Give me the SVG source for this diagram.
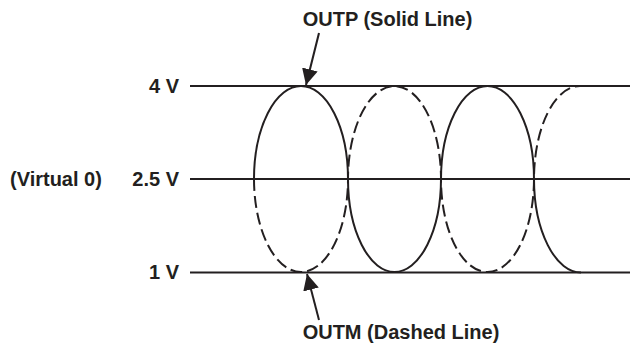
<svg xmlns="http://www.w3.org/2000/svg" width="635" height="344" viewBox="0 0 635 344">
<style>
.t{font-family:"Liberation Sans",Arial,sans-serif;font-weight:bold;font-size:20px;fill:#231f20}
.ln{stroke:#231f20;stroke-width:2;fill:none}
.dash{stroke-dasharray:12 5}
</style>
<defs>
<marker id="ah" markerUnits="userSpaceOnUse" markerWidth="17" markerHeight="16" refX="16" refY="8" orient="auto">
<path d="M0,0 L16,8 L0,16 z" fill="#231f20"/>
</marker>
</defs>
<rect width="635" height="344" fill="#fff"/>
<g id="axes">
<line class="ln" x1="190" y1="86" x2="630" y2="86"/>
<line class="ln" x1="190" y1="179" x2="630" y2="179"/>
<line class="ln" x1="190" y1="272.5" x2="630" y2="272.5"/>
</g>
<g id="outp">
<path class="ln" d="M254,179 A47,93 0 0 1 348,179 A46.5,93 0 0 0 441,179 A46.5,93 0 0 1 534,179 A47,93.5 0 0 0 581,272.5"/>
</g>
<g id="outm">
<path class="ln dash" d="M254,179 A47,93 0 0 0 348,179 A46.5,93 0 0 1 441,179 A46.5,93 0 0 0 534,179 A46,93 0 0 1 580,86"/>
</g>
<g id="connectors">
<line class="ln" stroke-width="1.3" x1="319" y1="33" x2="306" y2="85" marker-end="url(#ah)"/>
<line class="ln" stroke-width="1.3" x1="319" y1="320" x2="307" y2="274" marker-end="url(#ah)"/>
</g>
<g id="labels">
<text class="t" x="387.5" y="26" text-anchor="middle">OUTP (Solid Line)</text>
<text class="t" x="401" y="339" text-anchor="middle">OUTM (Dashed Line)</text>
<text class="t" x="179" y="93" text-anchor="end">4 V</text>
<text class="t" x="179" y="186" text-anchor="end">2.5 V</text>
<text class="t" x="179" y="279" text-anchor="end">1 V</text>
<text class="t" x="10" y="186">(Virtual 0)</text>
</g>
</svg>
